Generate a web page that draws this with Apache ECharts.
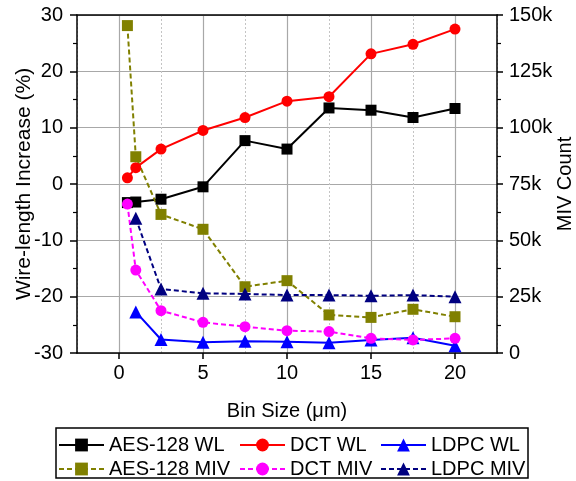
<!DOCTYPE html>
<html>
<head>
<meta charset="utf-8">
<script src="https://cdn.jsdelivr.net/npm/echarts@6/dist/echarts.min.js"></script>
<style>
  html, body { margin: 0; padding: 0; background: #fff; }
  #chart { width: 576px; height: 481px; }
</style>
</head>
<body>
<div id="chart"></div>
<script>
// bin sizes in um
const binSizes = [0.5, 1, 2.5, 5, 7.5, 10, 12.5, 15, 17.5, 20];
// wire-length increase (%)
const aesWL = [-3.3, -3.2, -2.7, -0.5, 7.7, 6.2, 13.5, 13.1, 11.8, 13.4];
const dctWL = [1.1, 2.9, 6.2, 9.5, 11.8, 14.7, 15.5, 23.1, 24.8, 27.5];
const ldpcWL = [null, -22.7, -27.6, -28.1, -27.9, -28.0, -28.2, -27.7, -27.3, -28.7];
// MIV count, thousands
const aesMIV = [145.3, 87.1, 61.5, 54.9, 29.4, 32.1, 16.9, 15.8, 19.4, 16.1];
const dctMIV = [66.1, 36.8, 18.8, 13.6, 11.7, 9.9, 9.5, 6.5, 5.8, 6.5];
const ldpcMIV = [null, 59.8, 28.4, 26.5, 26.2, 25.7, 25.7, 25.4, 25.7, 25.0];

const xTicks = [0, 5, 10, 15, 20];

const font = "'Liberation Sans', Arial, sans-serif";
const gridGray = "#a8a8a8";
const minorGray = "#c4c4c4";

function pairs(values) {
  return binSizes.map((x, i) => [x, values[i]]).filter((d) => d[1] !== null);
}

function series(name, values, color, symbol, dashed, yAxisIndex) {
  return {
    name,
    type: "line",
    yAxisIndex,
    data: pairs(values),
    symbol,
    symbolSize: symbol === "triangle" ? 13 : 11,
    color,
    lineStyle: { color, width: 2, type: dashed ? [5, 3] : "solid" },
    itemStyle: { color },
    emphasis: { disabled: true },
    animation: false,
  };
}

function legendColumn(left, names) {
  return {
    orient: "vertical",
    left,
    top: 435,
    data: names,
    itemWidth: 45,
    itemHeight: 16,
    itemGap: 4,
    padding: 0,
    textStyle: { fontFamily: font, fontSize: 20, color: "#000" },
    selectedMode: false,
  };
}

const chart = echarts.init(document.getElementById("chart"));
chart.setOption({
  animation: false,
  textStyle: { fontFamily: font },
  grid: { left: 77, right: 79, top: 15, bottom: 128, outerBoundsMode: "none", containLabel: false },
  xAxis: [
    {
      // bottom axis: major ticks, labels and solid grid lines at 0, 5, ... 20
      type: "value",
      min: -2.5,
      max: 22.5,
      interval: 2.5,
      name: "Bin Size (\u03bcm)",
      nameLocation: "middle",
      nameGap: 48,
      nameMoveOverlap: false,
      nameTextStyle: { fontFamily: font, fontSize: 20, color: "#000" },
      axisLine: { onZero: false, lineStyle: { color: "#000", width: 1.5 } },
      axisTick: { customValues: xTicks, length: 6, lineStyle: { color: "#000", width: 1.5 } },
      axisLabel: { customValues: xTicks, fontFamily: font, fontSize: 20, color: "#000", margin: 10 },
      splitLine: { show: true, lineStyle: { color: gridGray, width: 1.2 } },
    },
    {
      // top frame + dotted grid lines at 2.5, 7.5, ...
      type: "value",
      position: "top",
      min: -2.5,
      max: 22.5,
      interval: 2.5,
      axisLine: { onZero: false, lineStyle: { color: "#000", width: 1.5 } },
      axisTick: { show: false },
      axisLabel: { show: false },
      splitLine: { show: true, lineStyle: { color: [minorGray, "transparent"], type: [2, 2], width: 1 } },
    },
  ],
  yAxis: [
    {
      type: "value",
      min: -30,
      max: 30,
      interval: 10,
      name: "Wire-length Increase (%)",
      nameLocation: "middle",
      nameRotate: 90,
      nameGap: 42,
      nameMoveOverlap: false,
      nameTextStyle: { fontFamily: font, fontSize: 21, color: "#000" },
      axisLine: { show: true, onZero: false, lineStyle: { color: "#000", width: 1.5 } },
      axisTick: { show: true, length: 7, lineStyle: { color: "#000", width: 1.5 } },
      minorTick: { show: true, splitNumber: 2, length: 4, lineStyle: { color: "#000", width: 1.2 } },
      axisLabel: { fontFamily: font, fontSize: 20, color: "#000", margin: 14 },
      splitLine: { show: true, lineStyle: { color: gridGray, width: 1.2 } },
    },
    {
      type: "value",
      min: 0,
      max: 150,
      interval: 25,
      position: "right",
      name: "MIV Count",
      nameLocation: "middle",
      nameRotate: 90,
      nameGap: 58,
      nameMoveOverlap: false,
      nameTextStyle: { fontFamily: font, fontSize: 20, color: "#000" },
      axisLine: { show: true, onZero: false, lineStyle: { color: "#000", width: 1.5 } },
      axisTick: { show: true, length: 6, lineStyle: { color: "#000", width: 1.5 } },
      minorTick: { show: true, splitNumber: 2, length: 4, lineStyle: { color: "#000", width: 1.2 } },
      axisLabel: {
        fontFamily: font, fontSize: 20, color: "#000", margin: 12,
        formatter: (v) => (v === 0 ? "0" : v + "k"),
      },
      splitLine: { show: false },
    },
  ],
  legend: [
    legendColumn(58, ["AES-128 WL", "AES-128 MIV"]),
    legendColumn(239, ["DCT WL", "DCT MIV"]),
    legendColumn(380, ["LDPC WL", "LDPC MIV"]),
  ],
  graphic: [
    {
      type: "rect",
      shape: { x: 56, y: 428, width: 472, height: 50 },
      style: { fill: "none", stroke: "#000", lineWidth: 1.5 },
      silent: true,
    },
  ],
  series: [
    series("AES-128 WL", aesWL, "#000000", "rect", false, 0),
    series("DCT WL", dctWL, "#ff0000", "circle", false, 0),
    series("LDPC WL", ldpcWL, "#0000ff", "triangle", false, 0),
    series("AES-128 MIV", aesMIV, "#808000", "rect", true, 1),
    series("DCT MIV", dctMIV, "#ff00ff", "circle", true, 1),
    series("LDPC MIV", ldpcMIV, "#000080", "triangle", true, 1),
  ],
});
</script>
</body>
</html>
